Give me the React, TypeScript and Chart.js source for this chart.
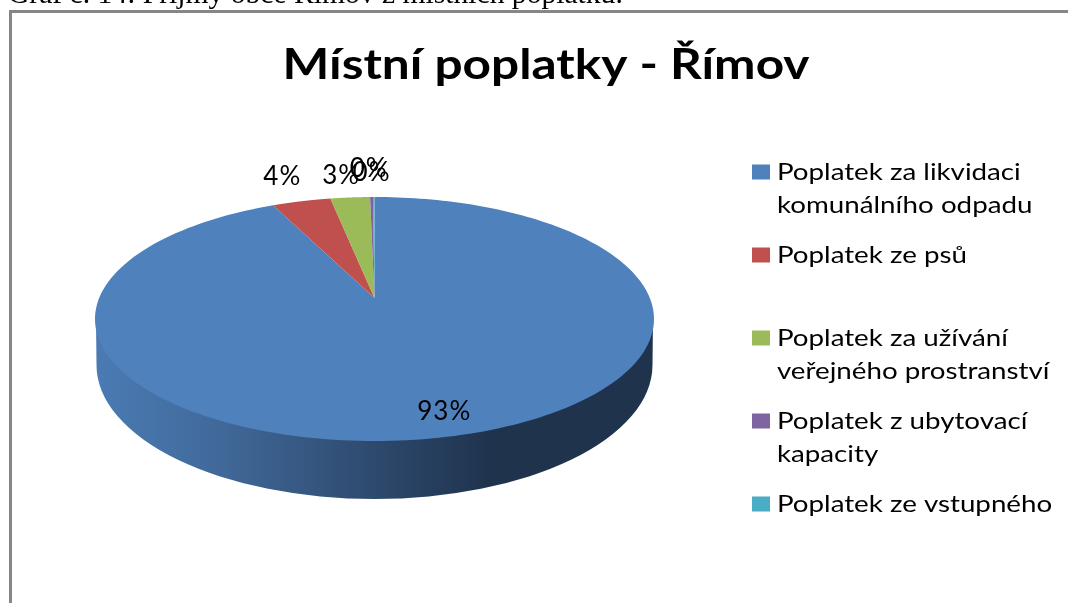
import React, { useEffect, useRef } from "react";
import { Chart, registerables } from "chart.js";

Chart.register(...registerables);

const captionText = "Graf č. 14: Příjmy obce Římov z místních poplatků.";
const chartTitle = "Místní poplatky - Římov";
const categories = [
  ["Poplatek za likvidaci", "komunálního odpadu"],
  ["Poplatek ze psů", ""],
  ["Poplatek za užívání", "veřejného prostranství"],
  ["Poplatek z ubytovací", "kapacity"],
  ["Poplatek ze vstupného", ""],
];
const shares = [93, 4, 2.7, 0.2, 0.1];
const sliceColors = ["#4F81BD", "#C0504D", "#9BBB59", "#8064A2", "#4BACC6"];

// styling of the 3D projection and its labels
const SQUASH = 122 / 279.5;
const APEX_SHIFT = -0.172;
const LABEL_RADIUS = [0.84, 1.3, 1.3, 1.38, 1.34];
const LABEL_NUDGE = [[11, 1], [-1, -1], [-3, 3], [-2, 3], [-2, 4]];
const TITLE_STRETCH = 1.18;
const LEGEND_STRETCH = 1.155;

function project(cx: number, cy: number, rx: number, r: number, angle: number) {
  const u = r * Math.cos(angle);
  const v = r * Math.sin(angle);
  const d = 1 + APEX_SHIFT * v;
  const px = (u * Math.sqrt(1 - APEX_SHIFT * APEX_SHIFT)) / d;
  const py = (v + APEX_SHIFT) / d;
  return [cx + rx * px, cy + rx * SQUASH * py];
}

function stretched(ctx: CanvasRenderingContext2D, originX: number, sx: number, paint: () => void) {
  ctx.save();
  ctx.translate(originX, 0);
  ctx.scale(sx, 1);
  ctx.translate(-originX, 0);
  paint();
  ctx.restore();
}

const pie3d = {
  id: "pie3d",
  afterLayout(chart: any) {
    const ctx = chart.ctx;
    Object.assign(chart.chartArea, { left: 95, right: 654, top: 39.5, bottom: 598.5, width: 559, height: 559 });
    const t = chart.titleBlock;
    Object.assign(t, { left: 0, right: 1092, top: 40, bottom: 90 });
    const drawTitle = t.draw.bind(t);
    t.draw = () => stretched(ctx, 546, TITLE_STRETCH, drawTitle);
    const l = chart.legend;
    Object.assign(l, { left: 741, right: 1068, top: 143, bottom: 603 });
    const drawLegend = l.draw.bind(l);
    l.draw = () => stretched(ctx, 752, LEGEND_STRETCH, drawLegend);
  },
  beforeDraw(chart: any) {
    const ctx = chart.ctx;
    ctx.save();
    ctx.fillStyle = "#868686";
    ctx.fillRect(9, 10, 1059, 3);
    ctx.fillRect(9, 10, 3, 593);
    ctx.fillStyle = "#000";
    ctx.font = '29.6px "Liberation Serif"';
    ctx.textBaseline = "alphabetic";
    ctx.textAlign = "left";
    ctx.fillText(captionText, 8, 3);
    ctx.restore();
  },
  beforeDatasetDraw(chart: any, args: any) {
    const ctx = chart.ctx;
    const arcs = args.meta.data;
    const { x: cx, y: cy, outerRadius: rx } = arcs[0];
    ctx.save();
    // front wall of the disc
    const grad = ctx.createLinearGradient(96, 0, 490, 0);
    grad.addColorStop(0, "#4A7BB3");
    grad.addColorStop(0.3, "#416A9B");
    grad.addColorStop(0.7, "#2E4A6E");
    grad.addColorStop(1, "#1F334D");
    ctx.fillStyle = grad;
    ctx.beginPath();
    ctx.moveTo(cx - rx + 1, cy);
    ctx.ellipse(cx, cy + 46, rx - 1.5, 134, 0, Math.PI, 0, true);
    ctx.lineTo(cx + rx - 1, cy);
    ctx.closePath();
    ctx.fill();
    // top face
    arcs.forEach((arc: any, i: number) => {
      const steps = 240;
      ctx.beginPath();
      const c = project(cx, cy, rx, 0, 0);
      ctx.moveTo(c[0], c[1]);
      for (let s = 0; s <= steps; s++) {
        const a = arc.startAngle + ((arc.endAngle - arc.startAngle) * s) / steps;
        const p = project(cx, cy, rx, 1, a);
        ctx.lineTo(p[0], p[1]);
      }
      ctx.closePath();
      ctx.fillStyle = sliceColors[i];
      ctx.fill();
    });
    ctx.restore();
    return false;
  },
  afterDatasetsDraw(chart: any) {
    const ctx = chart.ctx;
    const arcs = chart.getDatasetMeta(0).data;
    const total = shares.reduce((a, b) => a + b, 0);
    ctx.save();
    ctx.letterSpacing = "1px";
    ctx.font = '400 26px Lato';
    ctx.fillStyle = "#000";
    ctx.textAlign = "center";
    ctx.textBaseline = "middle";
    arcs.forEach((arc: any, i: number) => {
      const mid = (arc.startAngle + arc.endAngle) / 2;
      const p = project(arc.x, arc.y, arc.outerRadius, LABEL_RADIUS[i], mid);
      ctx.fillText(`${Math.round((shares[i] / total) * 100)}%`, p[0] + LABEL_NUDGE[i][0], p[1] + LABEL_NUDGE[i][1]);
    });
    ctx.restore();
  },
};

export default function App() {
  const ref = useRef<HTMLCanvasElement>(null);
  useEffect(() => {
    const chart = new Chart(ref.current!, {
      type: "pie",
      data: {
        labels: categories.map((c) => c.join(" ").trim()),
        datasets: [{ data: shares, backgroundColor: sliceColors, borderWidth: 0 }],
      },
      plugins: [pie3d],
      options: {
        animation: false,
        responsive: false,
        events: [],
        plugins: {
          tooltip: { enabled: false },
          title: {
            display: true,
            text: chartTitle,
            padding: 0,
            color: "#000",
            font: { family: "Lato", size: 42, weight: "bold", lineHeight: 1.2 },
          },
          legend: {
            position: "right",
            align: "start",
            labels: {
              boxWidth: 3.6,
              boxHeight: 3,
              padding: 17,
              color: "#000",
              font: { family: "Lato", size: 24, lineHeight: 33 / 24 },
              generateLabels: () =>
                categories.map((text, i) => ({
                  text,
                  fillStyle: sliceColors[i],
                  strokeStyle: sliceColors[i],
                  lineWidth: 12,
                  lineJoin: "miter",
                  textAlign: "left",
                  hidden: false,
                  index: i,
                })) as any,
            },
          },
        },
      } as any,
    });
    return () => chart.destroy();
  }, []);
  return (
    <div style={{ position: "fixed", left: 0, top: 0, width: 1068, height: 603, overflow: "hidden", background: "#fff" }}>
      <canvas ref={ref} width={1068} height={603} style={{ display: "block" }} />
    </div>
  );
}
